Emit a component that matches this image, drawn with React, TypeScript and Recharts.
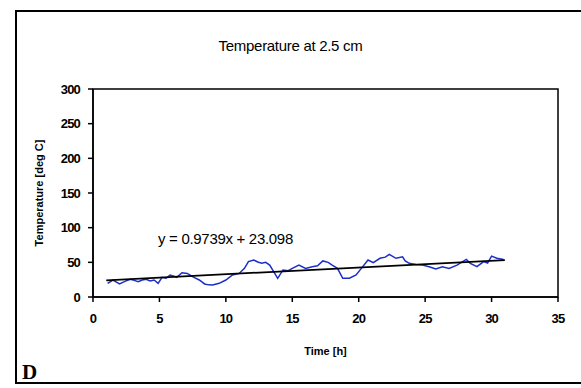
import React from 'react';
import { LineChart, Line, XAxis, YAxis, ReferenceArea, Label } from 'recharts';

// logged temperature at 2.5 cm depth, hours vs deg C
const hours = [
  1.1, 1.5, 2.0, 2.4, 2.8, 3.1, 3.4, 3.7, 4.0, 4.3, 4.6, 4.9, 5.2, 5.5, 5.8, 6.1, 6.3, 6.7, 7.1, 7.4,
  7.6, 8.0, 8.4, 8.7, 9.0, 9.5, 10.0, 10.5, 11.0, 11.4, 11.7, 12.1, 12.4, 12.7, 13.0, 13.3, 13.6, 13.9,
  14.3, 14.7, 15.0, 15.5, 16.0, 16.5, 16.9, 17.3, 17.7, 18.0, 18.4, 18.8, 19.3, 19.8, 20.2, 20.7, 21.1,
  21.6, 22.0, 22.3, 22.8, 23.3, 23.5, 23.8, 24.3, 24.8, 25.3, 25.8, 26.3, 26.8, 27.4, 28.1, 28.4, 28.9,
  29.4, 29.7, 30.0, 30.4, 30.9,
];
const temps = [
  19.7, 24.5, 18.8, 22.5, 25.5, 24.0, 22.0, 24.5, 25.5, 23.0, 24.5, 19.7, 28.4, 27.0, 31.7, 30.0, 28.4,
  35.0, 34.0, 30.5, 28.4, 24.5, 18.8, 17.5, 17.3, 19.7, 24.5, 31.7, 34.0, 41.3, 51.0, 53.4, 50.5, 48.6,
  50.0, 46.0, 36.5, 27.0, 39.0, 38.0, 41.3, 46.0, 41.3, 43.7, 45.0, 52.0, 50.0, 46.0, 41.3, 27.0, 27.0,
  31.7, 41.3, 53.4, 49.6, 55.8, 57.5, 61.5, 55.8, 58.0, 52.0, 48.6, 47.0, 46.0, 43.7, 40.4, 43.7, 41.3,
  46.0, 54.3, 48.6, 43.7, 51.0, 49.0, 59.0, 55.8, 54.0,
];
const xTicks = [0, 5, 10, 15, 20, 25, 30, 35];
const yTicks = [0, 50, 100, 150, 200, 250, 300];

// linear fit printed on the chart
const slope = 0.9739;
const intercept = 23.098;
const fitRange = [1, 31];

const series = hours.map((h, i) => ({ h, temp: temps[i] }));
const fit = fitRange.map((h) => ({ h, temp: slope * h + intercept }));

const font = '"Liberation Sans", Arial, sans-serif';
const tickStyle = { fontFamily: font, fontSize: 13, fontWeight: 700, fill: '#000', letterSpacing: -0.8 };

export default function App() {
  return (
    <div style={{ position: 'absolute', left: 0, top: 0, width: 581, height: 388, background: '#fff', overflow: 'hidden' }}>
      <div
        style={{
          position: 'absolute', left: 15, top: 10, width: 600, height: 374,
          border: '2px solid #000', boxSizing: 'border-box',
        }}
      />
      <div style={{ position: 'absolute', left: 0, width: 581, top: 37, textAlign: 'center', fontFamily: font, fontSize: 15, letterSpacing: -0.3 }}>
        Temperature at 2.5 cm
      </div>
      <div style={{ position: 'absolute', left: 158, top: 230, fontFamily: font, fontSize: 15, letterSpacing: -0.3 }}>
        y = 0.9739x + 23.098
      </div>
      <div style={{ position: 'absolute', left: 22, top: 360, fontFamily: 'serif', fontSize: 21, fontWeight: 700 }}>
        D
      </div>
      <LineChart
        width={581}
        height={388}
        style={{ position: 'absolute', left: 0, top: 0 }}
        margin={{ top: 89, right: 23, bottom: 61, left: 53 }}
      >
        <XAxis
          type="number"
          dataKey="h"
          domain={[0, 35]}
          ticks={xTicks}
          allowDataOverflow
          height={30}
          tickSize={5}
          tickMargin={12}
          tick={tickStyle}
          stroke="#000"
          strokeWidth={1.5}
        >
          <Label value="Time [h]" position="insideBottom" offset={-28} style={{ fontFamily: font, fontSize: 11, fontWeight: 700, fill: '#000' }} />
        </XAxis>
        <YAxis
          type="number"
          domain={[0, 300]}
          ticks={yTicks}
          width={40}
          tickSize={5}
          tickMargin={8}
          tick={tickStyle}
          stroke="#000"
          strokeWidth={1.5}
        >
          <Label
            value="Temperature [deg C]"
            angle={-90}
            position="insideLeft"
            offset={-14}
            style={{ textAnchor: 'middle', fontFamily: font, fontSize: 11, fontWeight: 700, fill: '#000' }}
          />
        </YAxis>
        <ReferenceArea x1={0} x2={35} y1={0} y2={300} fill="none" stroke="#000" strokeWidth={1.5} />
        <Line
          data={series}
          dataKey="temp"
          type="linear"
          stroke="#1a2fc8"
          strokeWidth={1.5}
          dot={false}
          isAnimationActive={false}
        />
        <Line
          data={fit}
          dataKey="temp"
          type="linear"
          stroke="#000"
          strokeWidth={1.8}
          dot={false}
          isAnimationActive={false}
        />
      </LineChart>
    </div>
  );
}
